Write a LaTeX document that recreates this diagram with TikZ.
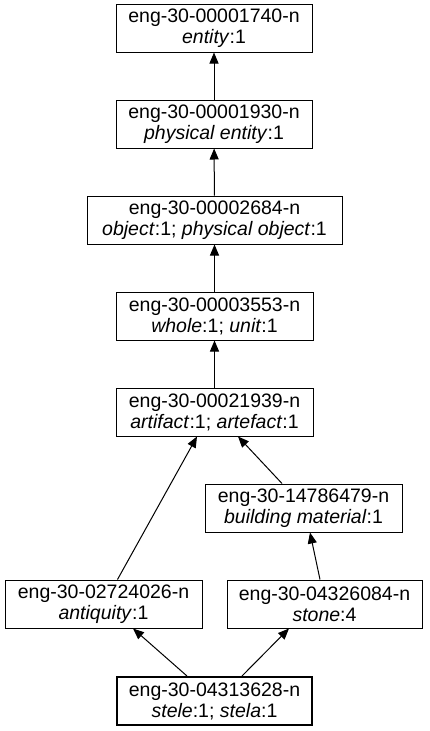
\documentclass[tikz,border=0pt]{standalone}
\usepackage{fontspec}
\setmainfont{Liberation Sans}
\usetikzlibrary{arrows.meta,calc}
\begin{document}
\begin{tikzpicture}[x=1pt,y=-1pt,
  syn/.style={draw, line width=1pt, rectangle, inner sep=0pt, minimum height=48pt,
    align=center, font=\fontsize{19.5}{21}\selectfont},
  start/.style={syn, line width=2pt},
  hyp/.style={-{Triangle[length=11pt,width=9pt]}, line width=1pt}]
\useasboundingbox (0,0) rectangle (429,731);
\node[syn, minimum width=196pt] (entity) at (214,28) {eng-30-00001740-n\\\textit{entity}:1};
\node[syn, minimum width=196pt] (phys) at (214,124) {eng-30-00001930-n\\\textit{physical entity}:1};
\node[syn, minimum width=255pt] (object) at (214.5,220) {eng-30-00002684-n\\\textit{object}:1; \textit{physical object}:1};
\node[syn, minimum width=197pt] (whole) at (214.5,316) {eng-30-00003553-n\\\textit{whole}:1; \textit{unit}:1};
\node[syn, minimum width=197pt] (artifact) at (214.5,412) {eng-30-00021939-n\\\textit{artifact}:1; \textit{artefact}:1};
\node[syn, minimum width=197pt] (building) at (303.5,508) {eng-30-14786479-n\\\textit{building material}:1};
\node[syn, minimum width=197pt] (antiquity) at (103.5,604) {eng-30-02724026-n\\\textit{antiquity}:1};
\node[syn, minimum width=195pt] (stone) at (324.5,604) {eng-30-04326084-n\\\textit{stone}:4};
\node[start, minimum width=195pt, minimum height=48pt] (stele) at (214.5,701) {eng-30-04313628-n\\\textit{stele}:1; \textit{stela}:1};
\draw[hyp] (phys) -- (entity);
\draw[hyp] (object) -- (phys);
\draw[hyp] (whole) -- (object);
\draw[hyp] (artifact) -- (whole);
\draw[hyp] ([xshift=-21.5pt]building.north) -- ([xshift=23.5pt]artifact.south);
\draw[hyp] ([xshift=14pt]antiquity.north) -- ([xshift=-17.5pt]artifact.south);
\draw[hyp] ([xshift=-4.5pt]stone.north) -- ([xshift=6.5pt]building.south);
\draw[hyp] ([xshift=-27.5pt]stele.north) -- ([xshift=29.5pt]antiquity.south);
\draw[hyp] ([xshift=27.5pt]stele.north) -- ([xshift=-35.5pt]stone.south);
\end{tikzpicture}
\end{document}
